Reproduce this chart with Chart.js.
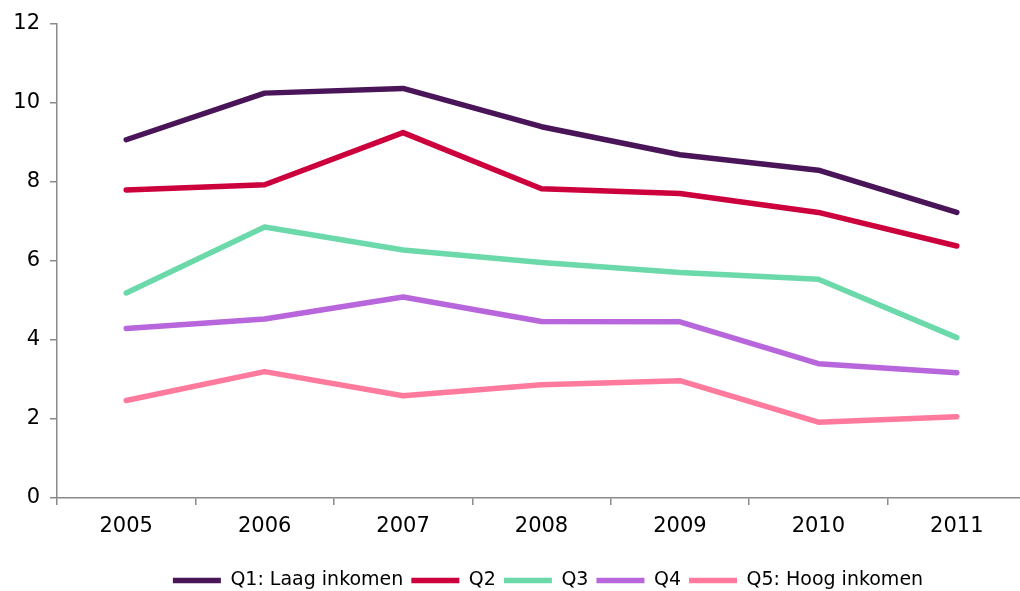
<!DOCTYPE html>
<html>
<head>
<meta charset="utf-8">
<script src="https://cdn.jsdelivr.net/npm/chart.js@4/dist/chart.umd.min.js"></script>
<style>
  html, body { margin: 0; padding: 0; background: #fff; overflow: hidden; }
  #wrap { width: 1026px; height: 591px; }
</style>
</head>
<body>
<div id="wrap"><canvas id="incomeChart" width="1026" height="591"></canvas></div>
<script>
const years = ['2005', '2006', '2007', '2008', '2009', '2010', '2011'];
const q1 = [9.07, 10.25, 10.37, 9.40, 8.69, 8.30, 7.23];
const q2 = [7.80, 7.93, 9.25, 7.83, 7.71, 7.23, 6.38];
const q3 = [5.19, 6.86, 6.28, 5.96, 5.71, 5.54, 4.06];
const q4 = [4.29, 4.53, 5.09, 4.47, 4.46, 3.40, 3.17];
const q5 = [2.47, 3.20, 2.59, 2.87, 2.97, 1.92, 2.06];
const seriesNames = ['Q1: Laag inkomen', 'Q2', 'Q3', 'Q4', 'Q5: Hoog inkomen'];
const yTicks = [0, 2, 4, 6, 8, 10, 12];

const colors = ['#4a1558', '#cc003d', '#6cd9aa', '#b866dc', '#ff7a9c'];
const axisGrey = '#8a8a8a';

function line(label, data, color) {
  return {
    label: label,
    data: data,
    borderColor: color,
    backgroundColor: color,
    borderWidth: 5.5,
    borderCapStyle: 'round',
    borderJoinStyle: 'round',
    pointRadius: 0,
    pointHoverRadius: 0,
    tension: 0,
    fill: false
  };
}

// nudge the legend right, it isn't centred on the canvas in the original
const legendShift = {
  id: 'legendShift',
  afterLayout(chart) {
    if (chart.legend) {
      chart.legend.left += 30;
      chart.legend.right += 30;
    }
  }
};

Chart.defaults.font.family = '"DejaVu Sans", Verdana, sans-serif';
Chart.defaults.color = '#000';

new Chart(document.getElementById('incomeChart'), {
  type: 'line',
  data: {
    labels: years,
    datasets: [
      line(seriesNames[0], q1, colors[0]),
      line(seriesNames[1], q2, colors[1]),
      line(seriesNames[2], q3, colors[2]),
      line(seriesNames[3], q4, colors[3]),
      line(seriesNames[4], q5, colors[4])
    ]
  },
  options: {
    responsive: false,
    animation: false,
    layout: { padding: { left: 10, right: 0, top: 24, bottom: -9 } },
    plugins: {
      tooltip: { enabled: false },
      legend: {
        position: 'bottom',
        labels: {
          usePointStyle: true,
          pointStyle: 'line',
          pointStyleWidth: 48,
          boxHeight: 5,
          padding: 8,
          font: { size: 19 },
          color: '#000'
        }
      }
    },
    scales: {
      x: {
        offset: true,
        afterFit(scale) { scale.height = 65; },
        grid: {
          offset: true,
          drawOnChartArea: false,
          drawTicks: true,
          tickLength: 7,
          color: axisGrey,
          lineWidth: 1.5
        },
        border: { color: axisGrey, width: 1.5 },
        ticks: { font: { size: 21 }, padding: 9, color: '#000' }
      },
      y: {
        min: 0,
        max: 12,
        afterBuildTicks(scale) {
          scale.ticks = yTicks.map(v => ({ value: v }));
        },
        afterFit(scale) { scale.width = 47; },
        grid: {
          drawOnChartArea: false,
          drawTicks: true,
          tickLength: 7,
          color: axisGrey,
          lineWidth: 1.5
        },
        border: { color: axisGrey, width: 1.5 },
        ticks: { font: { size: 21 }, padding: 10, color: '#000' }
      }
    }
  },
  plugins: [legendShift]
});
</script>
</body>
</html>
